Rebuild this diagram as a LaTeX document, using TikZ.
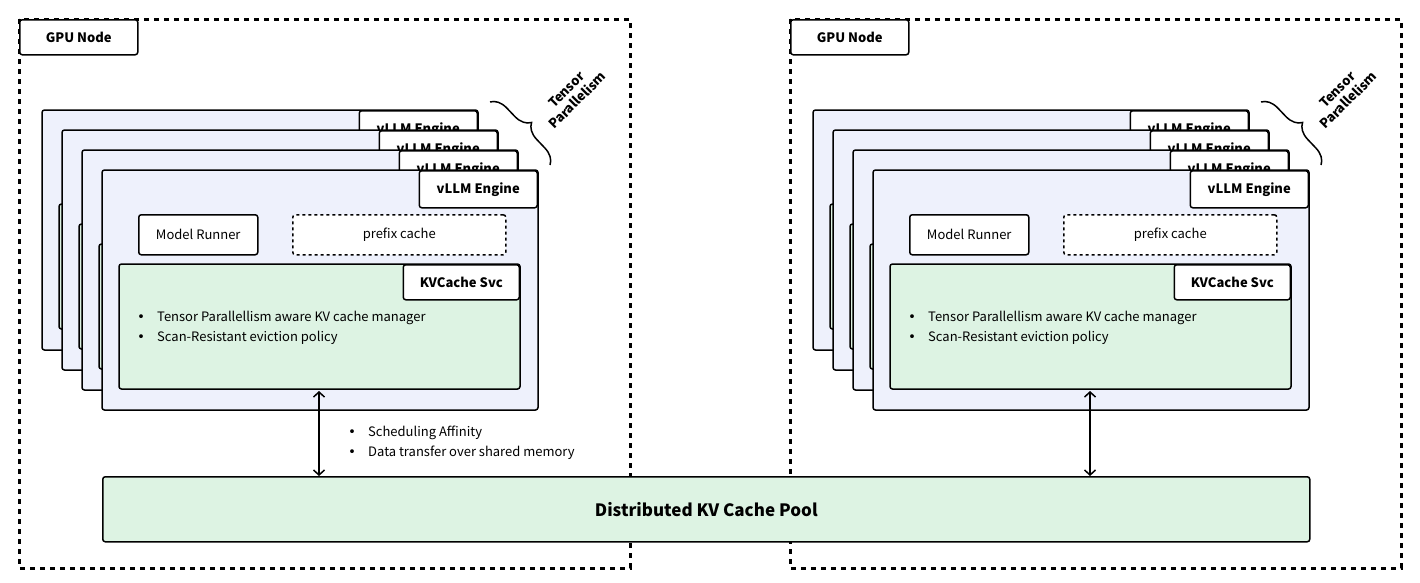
\documentclass[tikz,border=0pt]{standalone}
\usepackage{fontspec}
\setmainfont{Noto Sans CJK SC}
\usetikzlibrary{decorations.pathreplacing,arrows.meta}
\definecolor{cardfill}{HTML}{EEF1FC}
\definecolor{greenfill}{HTML}{DDF3E3}
\newcommand{\bul}{{\fontsize{18}{14}\selectfont\raisebox{-1.5pt}{•}}\hspace{7pt}}
\tikzset{
  card/.style={draw=black,line width=1.5pt,rounded corners=2.5pt,fill=cardfill},
  tab/.style={draw=black,line width=1.5pt,rounded corners=2.5pt,fill=white,font=\bfseries\fontsize{13}{15}\selectfont,inner sep=0pt},
  plain/.style={draw=black,line width=1.5pt,rounded corners=2.5pt,fill=white,font=\fontsize{13}{15}\selectfont,inner sep=0pt},
  svc/.style={draw=black,line width=1.5pt,rounded corners=2.5pt,fill=greenfill},
  outer/.style={draw=black,line width=3pt,dash pattern=on 5pt off 5pt},
  txt/.style={font=\fontsize{13}{15}\selectfont,anchor=west,inner sep=0pt},
  dbl/.style={{Straight Barb[length=5pt,width=11pt]}-{Straight Barb[length=5pt,width=11pt]},line width=1.5pt},
  tpbrace/.style={decorate,decoration={brace,amplitude=16pt},line width=1.5pt}
}
\newcommand{\enginecard}[4]{% x y prefix show-text
  \draw[card] (#1,#2) rectangle ++(436,240);
  \node[tab,minimum width=118pt,minimum height=37pt,anchor=north east] (#3tab) at (#1+436,#2) {vLLM Engine};
  \draw[svc] (#1+17,#2+94) rectangle (#1+418,#2+219);
  \coordinate (#3svcbot) at (#1+217,#2+221);
  \ifnum#4=1
  \node[plain,minimum width=119pt,minimum height=40pt,anchor=north west] (#3mr) at (#1+36,#2+44) {Model Runner};
  \node[plain,dashed,minimum width=213pt,minimum height=40pt,anchor=north west] (#3pc) at (#1+190,#2+44) {prefix cache};
  \node[tab,minimum width=116pt,minimum height=35pt,anchor=north east] (#3svctab) at (#1+418,#2+94) {KVCache Svc};
  \node[txt] (#3b1) at (#1+30,#2+148) {\bul Tensor Parallellism aware KV cache manager};
  \node[txt] (#3b2) at (#1+30,#2+168) {\bul Scan-Resistant eviction policy};
  \fi
}
\begin{document}
\begin{tikzpicture}[x=1pt,y=-1pt]
\useasboundingbox (0,0) rectangle (1420,582);
\foreach \dx/\s in {0/L,771/R}{
  \draw[outer] (19+\dx,19) rectangle (630+\dx,568);
  \node[tab,minimum width=118pt,minimum height=35pt,anchor=north west] (gpu\s) at (19+\dx,19) {GPU Node};
  \enginecard{42+\dx}{110}{a\s}{0}
  \enginecard{62+\dx}{130}{b\s}{0}
  \enginecard{82+\dx}{150}{c\s}{0}
  \enginecard{102+\dx}{170}{d\s}{1}
  \draw[tpbrace] (490+\dx,102) -- (550+\dx,165);
  \node[font=\bfseries\fontsize{13}{15}\selectfont,rotate=45,align=center] (tp\s) at (572+\dx,95) {Tensor\\Parallelism};
}
\node[svc,draw,minimum width=1207pt,minimum height=65pt,anchor=north west,font=\bfseries\fontsize{17}{20}\selectfont] (pool) at (102,476) {Distributed KV Cache Pool};
\draw[dbl] (dLsvcbot) -- (pool.north -| dLsvcbot);
\draw[dbl] (dRsvcbot) -- (pool.north -| dRsvcbot);
\node[txt] (s1) at (343,433) {\bul Scheduling Affinity};
\node[txt] (s2) at (343,453) {\bul Data transfer over shared memory};
\end{tikzpicture}
\end{document}
